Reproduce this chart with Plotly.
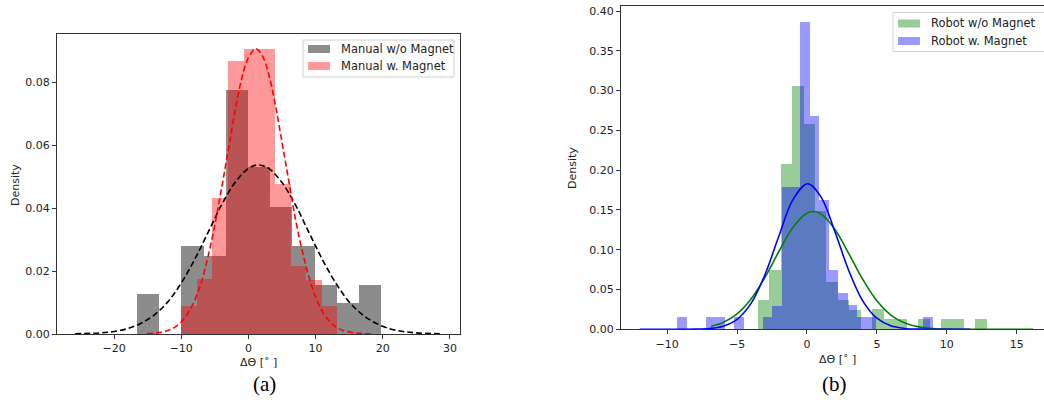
import plotly.graph_objects as go

W, H = 1044, 411

# ---------------- data: panel (a) ----------------
manual_wo_edges = [-16.6, -13.295, -9.99, -6.685, -3.38, -0.075, 3.23, 6.535, 9.84, 13.145, 16.45, 19.755]
manual_wo_density = [0.0127, 0.0, 0.0279, 0.0249, 0.0776, 0.0529, 0.0405, 0.0279, 0.0155, 0.0098, 0.0155]

manual_w_edges = [-10.0, -7.675, -5.35, -3.025, -0.70, 1.625, 3.95, 6.275, 8.60, 10.925, 13.25]
manual_w_density = [0.0088, 0.0175, 0.0432, 0.0866, 0.0906, 0.0906, 0.0476, 0.0217, 0.0172, 0.0088]

fit_wo_x = [-25.8, -22, -20, -18, -16, -14, -12, -10, -8, -6, -4, -2, 0, 1.5, 3, 5, 7, 9, 11, 13, 15, 17, 19, 21, 23, 25, 28.5]
fit_wo_y = [0.00006, 0.00036, 0.0008, 0.0017, 0.0034, 0.0061, 0.0102, 0.0162, 0.0237, 0.0323, 0.0410, 0.0481, 0.0526, 0.0537, 0.0526, 0.0481, 0.0410, 0.0323, 0.0237, 0.0162, 0.0102, 0.0061, 0.0034, 0.0017, 0.0008, 0.00036, 0.00007]

fit_w_x = [-15.1, -13, -12, -11, -10, -9, -8, -7, -6, -5, -4, -3, -2, -1, 0, 1.1, 2, 3, 4, 5, 6, 7, 8, 9, 10, 11, 12, 13, 14, 16, 18.6]
fit_w_y = [0.00014, 0.00051, 0.00108, 0.0021, 0.0038, 0.0066, 0.0107, 0.0165, 0.0247, 0.0346, 0.0463, 0.0583, 0.0707, 0.0811, 0.0878, 0.0906, 0.0887, 0.0827, 0.0729, 0.0609, 0.0487, 0.0366, 0.0265, 0.0182, 0.0117, 0.0072, 0.0042, 0.0023, 0.00123, 0.00029, 0.00004]

# ---------------- data: panel (b) ----------------
robot_wo_edges = [-3.52, -2.70, -1.88, -1.06, -0.24, 0.58, 1.39, 2.21, 3.03, 3.85, 4.67, 5.49, 6.31, 7.13, 7.95, 8.77, 9.58, 10.40, 11.22, 12.04, 12.86]
robot_wo_density = [0.037, 0.074, 0.208, 0.306, 0.258, 0.149, 0.060, 0.037, 0.024, 0.0, 0.025, 0.013, 0.013, 0.0, 0.013, 0.0, 0.013, 0.013, 0.0, 0.013]

robot_w_edges = [-9.26, -8.58, -7.91, -7.23, -6.56, -5.88, -5.20, -4.53, -3.85, -3.18, -2.50, -1.82, -1.15, -0.47, 0.20, 0.88, 1.56, 2.23, 2.91, 3.58, 4.26, 4.94, 5.61, 6.29, 6.97, 7.64, 8.32, 8.99]
robot_w_density = [0.0155, 0, 0, 0.0155, 0.0155, 0, 0.0155, 0, 0, 0.0155, 0.0297, 0.179, 0.179, 0.386, 0.268, 0.163, 0.0745, 0.045, 0.030, 0.0155, 0.0155, 0, 0, 0, 0, 0, 0.0155]

fit_rwo_x = [-6.86, -6, -5, -4, -3, -2, -1, 0, 0.45, 1, 2, 3, 4, 5, 6, 7, 8, 9, 10, 12, 14, 16.17]
fit_rwo_y = [0.0038, 0.0085, 0.0193, 0.0381, 0.0654, 0.0981, 0.1281, 0.1460, 0.148, 0.1450, 0.1255, 0.0948, 0.0624, 0.0358, 0.0179, 0.0078, 0.0030, 0.0010, 0.0003, 0.00002, 0.0, 0.0]

fit_rw_x = [-11.96, -10, -9, -8, -7, -6, -5, -4, -3, -2, -1, 0.05, 1, 2, 3, 4, 5, 6, 7, 8, 9, 10, 11.67]
fit_rw_y = [0.0, 0.000003, 0.00003, 0.0002, 0.00098, 0.0039, 0.0125, 0.0326, 0.0688, 0.1176, 0.163, 0.183, 0.1664, 0.1226, 0.0733, 0.0354, 0.0139, 0.0044, 0.0011, 0.0002, 0.00004, 0.0, 0.0]

x_ticks_a = [-20, -10, 0, 10, 20, 30]
y_ticks_a = [0.00, 0.02, 0.04, 0.06, 0.08]
x_ticks_b = [-10, -5, 0, 5, 10, 15]
y_ticks_b = [0.00, 0.05, 0.10, 0.15, 0.20, 0.25, 0.30, 0.35, 0.40]

legend_a = ["Manual w/o Magnet", "Manual w. Magnet"]
legend_b = ["Robot w/o Magnet", "Robot w. Magnet"]

GRAY = "rgba(0,0,0,0.45)"
RED = "rgba(255,0,0,0.4)"
GREEN = "rgba(0,128,0,0.4)"
BLUE = "rgba(0,0,255,0.4)"
FONT = "DejaVu Sans"
TXT = "#222"


def bars(edges, dens, color, xa, ya):
    centers = [(edges[i] + edges[i + 1]) / 2 for i in range(len(dens))]
    widths = [edges[i + 1] - edges[i] for i in range(len(dens))]
    return go.Bar(x=centers, y=dens, width=widths, marker=dict(color=color, line=dict(width=0)),
                  xaxis=xa, yaxis=ya, showlegend=False, hoverinfo="skip")


def px(v):
    return v / W


def py(v):
    return 1 - v / H


fig = go.Figure()
fig.add_trace(bars(manual_wo_edges, manual_wo_density, GRAY, "x", "y"))
fig.add_trace(bars(manual_w_edges, manual_w_density, RED, "x", "y"))
fig.add_trace(go.Scatter(x=fit_wo_x, y=fit_wo_y, mode="lines", line=dict(color="black", width=1.6, dash="6px,3px", shape="spline"),
                         xaxis="x", yaxis="y", showlegend=False, hoverinfo="skip"))
fig.add_trace(go.Scatter(x=fit_w_x, y=fit_w_y, mode="lines", line=dict(color="red", width=1.6, dash="6px,3px", shape="spline"),
                         xaxis="x", yaxis="y", showlegend=False, hoverinfo="skip"))

fig.add_trace(bars(robot_wo_edges, robot_wo_density, GREEN, "x2", "y2"))
fig.add_trace(bars(robot_w_edges, robot_w_density, BLUE, "x2", "y2"))
fig.add_trace(go.Scatter(x=fit_rwo_x, y=fit_rwo_y, mode="lines", line=dict(color="green", width=1.6, shape="spline"),
                         xaxis="x2", yaxis="y2", showlegend=False, hoverinfo="skip"))
fig.add_trace(go.Scatter(x=fit_rw_x, y=fit_rw_y, mode="lines", line=dict(color="blue", width=1.6, shape="spline"),
                         xaxis="x2", yaxis="y2", showlegend=False, hoverinfo="skip"))

axis_common = dict(showgrid=False, zeroline=False, showline=True, linecolor="#333", linewidth=1,
                   ticks="outside", ticklen=4, tickcolor="#333", tickfont=dict(family=FONT, size=11, color=TXT),
                   automargin=False, fixedrange=True)


def tt(v, fmt):
    s = format(v, fmt)
    return s.replace("-", "\u2212")


fig.update_layout(
    width=W, height=H, margin=dict(l=0, r=0, t=0, b=0),
    paper_bgcolor="white", plot_bgcolor="white", barmode="overlay", bargap=0,
    xaxis=dict(domain=[px(57), px(460)], range=[-28.5, 31.5], anchor="y", mirror=True,
               tickvals=x_ticks_a, ticktext=[tt(v, "d") for v in x_ticks_a], **axis_common),
    yaxis=dict(domain=[py(334), py(34)], range=[0, 0.0953], anchor="x", mirror=True,
               tickvals=y_ticks_a, ticktext=[tt(v, ".2f") for v in y_ticks_a], **axis_common),
    xaxis2=dict(domain=[px(621), 1.0], range=[-13.3, 16.95], anchor="y2", mirror=True,
                tickvals=x_ticks_b, ticktext=[tt(v, "d") for v in x_ticks_b], **axis_common),
    yaxis2=dict(domain=[py(329.3), py(6)], range=[0, 0.4063], anchor="x2", mirror=False,
                tickvals=y_ticks_b, ticktext=[tt(v, ".2f") for v in y_ticks_b], **axis_common),
)

shapes = []
annots = []

# axis titles
for (x, y, t, ang) in [(258, 362, "ΔΘ [˚ ]", 0), (15, 185, "Density", -90),
                       (837, 359, "ΔΘ [˚ ]", 0), (573, 168, "Density", -90)]:
    annots.append(dict(x=px(x), y=py(y), xref="paper", yref="paper", text=t, showarrow=False,
                       textangle=ang, font=dict(family=FONT, size=11, color=TXT), xanchor="center", yanchor="middle"))

# captions
for (x, t) in [(264, "(a)"), (834, "(b)")]:
    annots.append(dict(x=px(x), y=py(384), xref="paper", yref="paper", text=t, showarrow=False,
                       font=dict(family="Liberation Serif", size=21, color="black"), xanchor="center", yanchor="middle"))


# legends (frame, patches, labels)
def legend(box, entries):
    x0, y0, x1, y1 = box
    shapes.append(dict(type="rect", xref="paper", yref="paper", x0=px(x0), x1=px(x1), y0=py(y1), y1=py(y0),
                       line=dict(color="#d0d0d0", width=1), fillcolor="rgba(255,255,255,0.8)", layer="above"))
    for (pxl, pyc, label, color) in entries:
        shapes.append(dict(type="rect", xref="paper", yref="paper", x0=px(pxl), x1=px(pxl + 22), y0=py(pyc + 4),
                           y1=py(pyc - 4), line=dict(width=0), fillcolor=color, layer="above"))
        annots.append(dict(x=px(pxl + 31), y=py(pyc), xref="paper", yref="paper", text=label, showarrow=False,
                           xanchor="left", yanchor="middle", font=dict(family="DejaVu Sans, sans-serif", size=11.5, color=TXT)))


legend((303, 40, 454, 77), [(308, 49, legend_a[0], GRAY), (308, 66, legend_a[1], RED)])
legend((893, 12.5, 1050, 51.5), [(898, 23.5, legend_b[0], GREEN), (898, 41, legend_b[1], BLUE)])

fig.update_layout(shapes=shapes, annotations=annots)
fig.write_html("out.html", config={"displayModeBar": False, "staticPlot": True},
               post_script="document.body.style.margin='0';document.body.style.padding='0';document.body.style.overflow='hidden';")
